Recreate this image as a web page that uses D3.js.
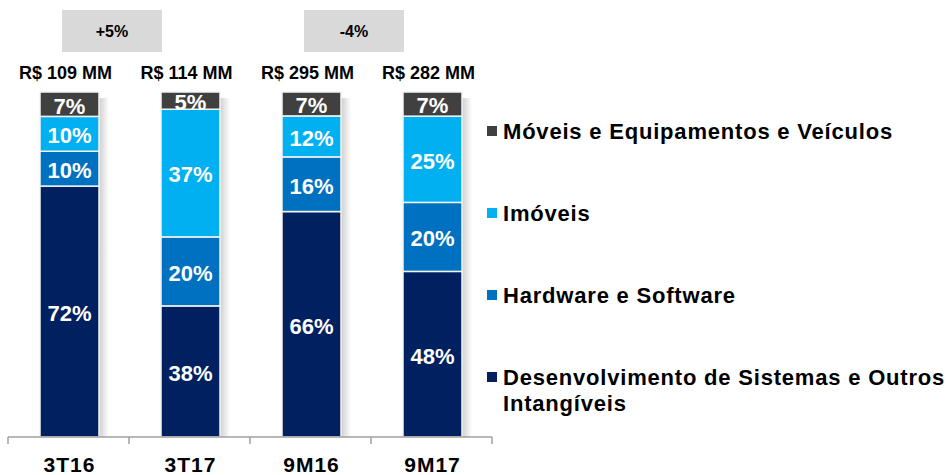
<!DOCTYPE html>
<html lang="pt">
<head>
<meta charset="UTF-8">
<title>Investimentos</title>
<script src="https://cdn.jsdelivr.net/npm/d3@7"></script>
<style>
  body { margin: 0; background: #fff; }
  svg text { font-family: "Liberation Sans", Arial, sans-serif; font-weight: bold; }
</style>
</head>
<body>
<div id="chart"></div>
<script>
// data
var categories = ["3T16", "3T17", "9M16", "9M17"];
var desenvolvimento = [72, 38, 66, 48];
var hardware = [10, 20, 16, 20];
var imoveis = [10, 37, 12, 25];
var moveis = [7, 5, 7, 7];
var totals = ["R$ 109 MM", "R$ 114 MM", "R$ 295 MM", "R$ 282 MM"];
var changeLabels = ["+5%", "-4%"];
var changePairs = [["3T16", "3T17"], ["9M16", "9M17"]];

var seriesNames = ["Desenvolvimento de Sistemas e Outros Intangíveis", "Hardware e Software", "Imóveis", "Móveis e Equipamentos e Veículos"];
var seriesKeys = ["desenv", "hard", "imov", "mov"];
var colors = ["#002060", "#0070c0", "#00b0f0", "#404040"];

var width = 947, height = 475;

var rows = categories.map(function (c, i) {
    return { cat: c, desenv: desenvolvimento[i], hard: hardware[i], imov: imoveis[i], mov: moveis[i] };
});

var svg = d3.select("#chart").append("svg")
    .attr("width", width)
    .attr("height", height);

var x = d3.scaleBand().domain(categories).range([8, 492]);
var y = d3.scaleLinear().domain([0, 1]).range([437, 92]);
var color = d3.scaleOrdinal().domain(seriesKeys).range(colors);
var barW = 59;

var stack = d3.stack().keys(seriesKeys).offset(d3.stackOffsetExpand);
var layers = stack(rows);

// shadow gradient on the right of each bar
var defs = svg.append("defs");
var grad = defs.append("linearGradient").attr("id", "shade");
grad.append("stop").attr("offset", "0%").attr("stop-color", "#cfcfcf");
grad.append("stop").attr("offset", "100%").attr("stop-color", "#ffffff");

svg.selectAll(".shadow")
    .data(rows)
    .enter().append("rect")
    .attr("class", "shadow")
    .attr("x", function (d) { return x(d.cat) + x.bandwidth() / 2 - barW / 2 + 1 + barW; })
    .attr("y", y(1) + 6)
    .attr("width", 10)
    .attr("height", y(0) - y(1) - 6)
    .attr("fill", "url(#shade)");

var groups = svg.selectAll(".layer")
    .data(layers)
    .enter().append("g")
    .attr("class", "layer")
    .attr("fill", function (d) { return color(d.key); });

groups.selectAll("rect")
    .data(function (d) { return d; })
    .enter().append("rect")
    .attr("x", function (d) { return x(d.data.cat) + x.bandwidth() / 2 - barW / 2 + 1; })
    .attr("y", function (d) { return y(d[1]); })
    .attr("width", barW)
    .attr("height", function (d) { return y(d[0]) - y(d[1]); })
    .attr("stroke", "#f4f4f4")
    .attr("stroke-width", 1.5);

// segment labels
groups.each(function (layer) {
    d3.select(this).selectAll("text")
        .data(layer)
        .enter().append("text")
        .attr("x", function (d) { return x(d.data.cat) + x.bandwidth() / 2 + 1; })
        .attr("y", function (d) { return (y(d[0]) + y(d[1])) / 2 + 1; })
        .attr("dy", "0.38em")
        .attr("text-anchor", "middle")
        .attr("fill", "#fff")
        .style("font-size", "22px")
        .text(function (d) { return d.data[layer.key] + "%"; });
});

// x axis
var axis = svg.append("g")
    .attr("transform", "translate(0," + y(0) + ")");
axis.append("line")
    .attr("x1", x.range()[0]).attr("x2", x.range()[1])
    .attr("stroke", "#a0a0a0").attr("stroke-width", 1.5);
var ticks = categories.map(function (c) { return x(c); }).concat([x.range()[1]]);
axis.selectAll(".tick")
    .data(ticks)
    .enter().append("line")
    .attr("x1", function (d) { return d; })
    .attr("x2", function (d) { return d; })
    .attr("y1", 0).attr("y2", 7)
    .attr("stroke", "#a0a0a0").attr("stroke-width", 1.5);
axis.selectAll(".cat")
    .data(categories)
    .enter().append("text")
    .attr("x", function (d) { return x(d) + x.bandwidth() / 2 + 1; })
    .attr("y", 35)
    .attr("text-anchor", "middle")
    .attr("fill", "#000")
    .style("font-size", "21px")
    .style("letter-spacing", "1px")
    .text(function (d) { return d; });

// totals
svg.selectAll(".total")
    .data(categories)
    .enter().append("text")
    .attr("x", function (d) { return x(d) + x.bandwidth() / 2 - 3; })
    .attr("y", 79)
    .attr("text-anchor", "middle")
    .attr("fill", "#000")
    .style("font-size", "18px")
    .text(function (d, i) { return totals[i]; });

// change boxes
var boxes = svg.selectAll(".chg")
    .data(changePairs)
    .enter().append("g")
    .attr("transform", function (d) { return "translate(" + (x(d[1]) - 17) + ",0)"; });
boxes.append("rect")
    .attr("x", -50).attr("y", 10)
    .attr("width", 100).attr("height", 42)
    .attr("fill", "#d9d9d9");
boxes.append("text")
    .attr("x", 0).attr("y", 31)
    .attr("dy", "0.36em")
    .attr("text-anchor", "middle")
    .style("font-size", "16px")
    .text(function (d, i) { return changeLabels[i]; });

// legend
var legendY = d3.scalePoint().domain(seriesKeys.slice().reverse()).range([131, 377]);
var legend = svg.selectAll(".legend")
    .data(seriesKeys)
    .enter().append("g")
    .attr("transform", function (d) { return "translate(487," + legendY(d) + ")"; });
legend.append("rect")
    .attr("x", 0).attr("y", -5)
    .attr("width", 10).attr("height", 10)
    .attr("fill", function (d) { return color(d); });
legend.append("text")
    .attr("x", 16).attr("y", 0)
    .attr("dy", "0.36em")
    .style("font-size", "22px")
    .style("letter-spacing", "0.8px")
    .attr("fill", "#000")
    .each(function (d, i) {
        var name = seriesNames[i];
        var t = d3.select(this);
        if (d === "desenv") {
            t.append("tspan").attr("x", 16).text("Desenvolvimento de Sistemas e Outros");
            t.append("tspan").attr("x", 16).attr("dy", "1.2em").text("Intangíveis");
        } else {
            t.text(name);
        }
    });
</script>
</body>
</html>
